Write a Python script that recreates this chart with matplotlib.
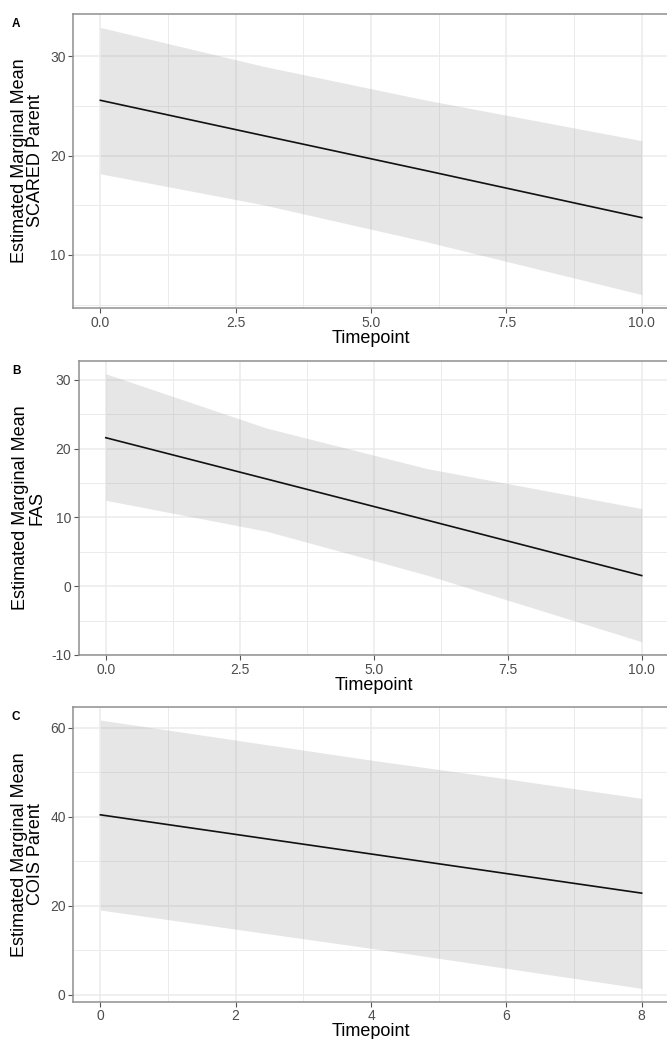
import matplotlib
matplotlib.use("Agg")
import matplotlib.pyplot as plt
import numpy as np

plt.rcParams['font.family'] = ['Liberation Sans', 'DejaVu Sans']
plt.rcParams['axes.unicode_minus'] = False

# ---- data ----
timepoints_ab = [0, 3, 6, 10]
scared_mean = [25.56, 22.02, 18.50, 13.75]
scared_upper = [32.9, 29.0, 25.6, 21.5]
scared_lower = [18.16, 15.05, 11.35, 6.0]

fas_mean = [21.6, 15.6, 9.6, 1.55]
fas_upper = [30.9, 23.0, 17.1, 11.3]
fas_lower = [12.5, 8.0, 1.6, -8.07]

timepoints_c = [0, 2, 4, 6, 8]
cois_mean = [40.4, 36.0, 31.6, 27.2, 22.8]
cois_upper = [61.7, 57.2, 52.7, 48.5, 44.1]
cois_lower = [19.0, 14.7, 10.4, 5.9, 1.4]

panel_letters = ['A', 'B', 'C']
ylabels = ['Estimated Marginal Mean\nSCARED Parent',
           'Estimated Marginal Mean\nFAS',
           'Estimated Marginal Mean\nCOIS Parent']
xticks_ab = [0, 2.5, 5, 7.5, 10]
xticklabels_ab = ['0.0', '2.5', '5.0', '7.5', '10.0']
xticks_c = [0, 2, 4, 6, 8]
yticks = [[10, 20, 30], [-10, 0, 10, 20, 30], [0, 20, 40, 60]]
yminor = [[5, 15, 25], [-5, 5, 15, 25], [10, 30, 50]]
xminor_ab = [1.25, 3.75, 6.25, 8.75]
xminor_c = [1, 3, 5, 7]

W, H = 667, 1039
fig = plt.figure(figsize=(W / 100, H / 100), dpi=100)

def px_axes(left, top, right, bottom):
    return fig.add_axes([left / W, 1 - bottom / H, (right - left) / W, (bottom - top) / H])

specs = [
    dict(box=(73.3, 14, 668.8, 308), x=timepoints_ab, m=scared_mean, lo=scared_lower, up=scared_upper,
         xlim=(-0.5, 10.5), ylim=(4.65, 34.25), xt=xticks_ab, xtl=xticklabels_ab, xmin=xminor_ab),
    dict(box=(79, 360.7, 668.5, 655), x=timepoints_ab, m=fas_mean, lo=fas_lower, up=fas_upper,
         xlim=(-0.5, 10.5), ylim=(-10, 32.8), xt=xticks_ab, xtl=xticklabels_ab, xmin=xminor_ab),
    dict(box=(73.3, 706.7, 668.7, 1001.7), x=timepoints_c, m=cois_mean, lo=cois_lower, up=cois_upper,
         xlim=(-0.4, 8.4), ylim=(-1.6, 64.7), xt=xticks_c, xtl=[str(v) for v in xticks_c], xmin=xminor_c),
]

grid_col = '#ebebeb'
for i, s in enumerate(specs):
    ax = px_axes(*s['box'])
    ax.set_xlim(*s['xlim'])
    ax.set_ylim(*s['ylim'])
    # grid
    for v in s['xt']:
        ax.axvline(v, color=grid_col, lw=1.1, zorder=0)
    for v in s['xmin']:
        ax.axvline(v, color=grid_col, lw=0.7, zorder=0)
    for v in yticks[i]:
        ax.axhline(v, color=grid_col, lw=1.1, zorder=0)
    for v in yminor[i]:
        ax.axhline(v, color=grid_col, lw=0.7, zorder=0)
    ax.fill_between(s['x'], s['lo'], s['up'], color='#999999', alpha=0.24, lw=0, zorder=1)
    ax.plot(s['x'], s['m'], color='#111111', lw=1.2, zorder=2)
    ax.set_xticks(s['xt'])
    ax.set_xticklabels(s['xtl'])
    ax.set_yticks(yticks[i])
    ax.tick_params(axis='both', labelsize=10, labelcolor='#4d4d4d', color='#555555',
                   length=3.5, width=0.8, pad=2)
    for sp in ax.spines.values():
        sp.set_color('#8f8f8f')
        sp.set_linewidth(1.1)
    ax.set_xlabel('Timepoint', fontsize=13, labelpad=0)
    ax.set_ylabel(ylabels[i], fontsize=13, labelpad=4, linespacing=0.95)
    l, t, r, b = s['box']
    fig.text(12 / W, 1 - (t + 4) / H, panel_letters[i], fontsize=8.5, fontweight='bold',
             ha='left', va='top')

fig.savefig('out.png', dpi=100)
